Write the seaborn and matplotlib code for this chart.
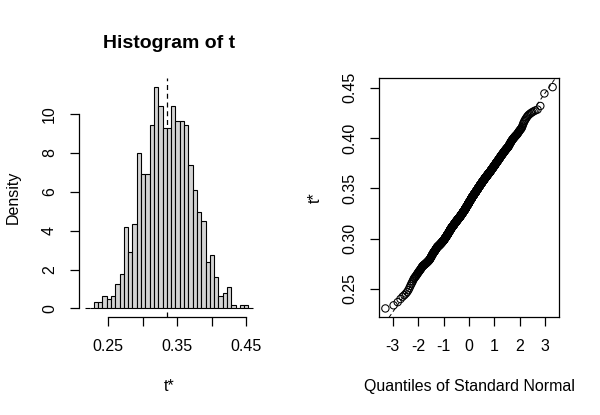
import numpy as np
import pandas as pd
import matplotlib
matplotlib.use("Agg")
import matplotlib.pyplot as plt
import seaborn as sns
from statistics import NormalDist

# ---- data ----
t0 = 0.33515            # observed statistic (dashed line)
bin_width = 0.00624     # histogram bin width
first_edge_offset = -19 # first break = t0 + offset * bin_width
bin_counts = [0, 0,
              2, 2, 4, 3, 4, 8, 11, 26, 18, 27, 50, 43, 43, 59, 71, 65, 58, 58,
              65, 60, 60, 59, 46, 38, 31, 28, 15, 17, 10, 4, 5, 7, 1, 0, 1, 1,
              0]
hist_xticks = [0.25, 0.30, 0.35, 0.40, 0.45]
hist_xticklabels = ["0.25", "", "0.35", "", "0.45"]
hist_yticks = [0, 2, 4, 6, 8, 10]
qq_xticks = [-3, -2, -1, 0, 1, 2, 3]
qq_yticks = [0.25, 0.30, 0.35, 0.40, 0.45]

# ---- build replicates from the binned counts ----
edges = t0 + bin_width * (np.arange(len(bin_counts) + 1) + first_edge_offset)
vals = []
for i, c in enumerate(bin_counts):
    for j in range(c):
        vals.append(edges[i] + bin_width * (j + 0.5) / c)
t = np.sort(np.array(vals))
n = len(t)
nd = NormalDist()
q = np.array([nd.inv_cdf((i + 0.5) / n) for i in range(n)])
df = pd.DataFrame({"t": t, "q": q})

sns.set_style("white")
plt.rcParams["font.family"] = ["Liberation Sans", "DejaVu Sans"]
plt.rcParams["text.color"] = "black"
plt.rcParams["axes.labelcolor"] = "black"
plt.rcParams["xtick.color"] = "black"
plt.rcParams["ytick.color"] = "black"
plt.rcParams["axes.edgecolor"] = "black"

W, H = 600, 415
fig = plt.figure(figsize=(W / 100, H / 100), dpi=100)
bottom = (H - 317.3) / H
height = (317.3 - 78.3) / H
ax1 = fig.add_axes([78.5 / W, bottom, 181 / W, height])
ax2 = fig.add_axes([378.7 / W, bottom, 180.6 / W, height])

fs = 11.5
tick_len = 6.5

# ---- histogram ----
ax1.axvline(t0, color="black", linestyle=(0, (4, 3)), linewidth=0.9, zorder=1)
sns.histplot(data=df, x="t", bins=edges, stat="density", color="#D3D3D3",
             edgecolor="black", linewidth=0.8, alpha=1, ax=ax1, zorder=2)
xr = edges[-1] - edges[0]
ax1.set_xlim(edges[0] - 0.04 * xr, edges[-1] + 0.04 * xr)
ymax = max(bin_counts) / (n * bin_width)
ax1.set_ylim(-0.04 * ymax, 1.04 * ymax)
for s in ["top", "right"]:
    ax1.spines[s].set_visible(False)
ax1.spines["left"].set_bounds(0, 10)
ax1.spines["bottom"].set_bounds(0.25, 0.45)
ax1.set_xticks(hist_xticks)
ax1.set_xticklabels(hist_xticklabels)
ax1.set_yticks(hist_yticks)
ax1.set_yticklabels([str(v) for v in hist_yticks], rotation=90, va="center")
ax1.set_title("Histogram of t", fontsize=14, fontweight="bold", pad=22,
              color="black")
ax1.set_xlabel("t*", fontsize=fs, labelpad=18)
ax1.set_ylabel("Density", fontsize=fs, labelpad=15)

# ---- QQ plot ----
sns.scatterplot(data=df, x="q", y="t", marker="o", s=28, facecolor="none",
                edgecolor="black", linewidth=0.75, ax=ax2, zorder=3)
qr = q[-1] - q[0]
ax2.set_xlim(q[0] - 0.04 * qr, q[-1] + 0.04 * qr)
tr = t[-1] - t[0]
ax2.set_ylim(t[0] - 0.04 * tr, t[-1] + 0.04 * tr)
mu, sd = t.mean(), t.std(ddof=1)
ax2.axline((0, mu), slope=sd, color="black", linestyle=(0, (4, 3)),
           linewidth=0.7, zorder=2)
ax2.set_xticks(qq_xticks)
ax2.set_xticklabels([str(v) for v in qq_xticks])
ax2.set_yticks(qq_yticks)
ax2.set_yticklabels([f"{v:.2f}" for v in qq_yticks], rotation=90, va="center")
ax2.set_xlabel("Quantiles of Standard Normal", fontsize=fs, labelpad=18)
ax2.set_ylabel("t*", fontsize=fs, labelpad=14, rotation=90)
for s in ax2.spines.values():
    s.set_visible(True)
    s.set_color("black")
    s.set_linewidth(0.9)

for ax in (ax1, ax2):
    ax.spines["left"].set_color("black")
    ax.spines["bottom"].set_color("black")
    ax.spines["left"].set_linewidth(0.9)
    ax.spines["bottom"].set_linewidth(0.9)
    ax.tick_params(axis="both", direction="out", length=tick_len, width=0.9,
                   color="black", labelsize=fs, labelcolor="black",
                   bottom=True, left=True)
    ax.tick_params(axis="x", pad=9)
    ax.tick_params(axis="y", pad=9)
    ax.grid(False)

fig.savefig("out.png", dpi=100)
